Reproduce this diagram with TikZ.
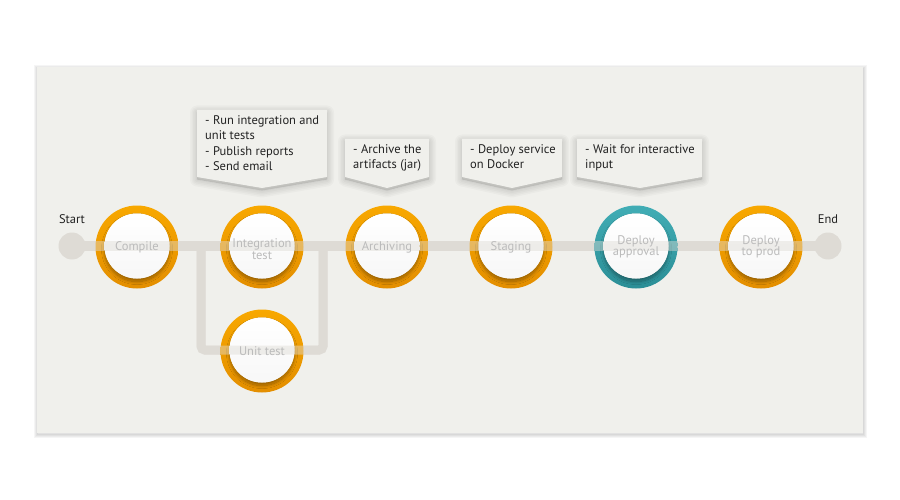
\documentclass[tikz,border=0pt]{standalone}
\usepackage{fontspec}
\setmainfont{PT Sans}
\usetikzlibrary{shadows.blur}
\definecolor{panel}{HTML}{F0F0EC}
\definecolor{track}{HTML}{DEDBD5}
\definecolor{ringA}{HTML}{F8A800}
\definecolor{ringB}{HTML}{E38E00}
\definecolor{tealA}{HTML}{41ADB5}
\definecolor{tealB}{HTML}{2B8E96}
\definecolor{lbl}{HTML}{BBBBBB}
\definecolor{ink}{HTML}{222222}
\newcommand\stagering[4]{%
  \shade[top color=#3, bottom color=#4] (#1,#2) circle (41.5);
  \fill[white, blur shadow={shadow xshift=0pt, shadow yshift=-3pt, shadow opacity=35, shadow blur radius=3pt, shadow blur steps=20}] (#1,#2-1) circle (32.5);
  \shade[top color=white, bottom color=white!94!gray] (#1,#2-1) circle (32.5);
}
\newcommand\callout[5]{%
  \foreach \w in {14,11,8,5,2}{%
    \draw[black, opacity=0.025, line width=\w pt, line join=round, yshift=-2.5pt]
      (#1,#2) -- (#3,#2) -- (#3,#4) -- (#5,#4+11) -- (#1,#4) -- cycle;
    \fill[black, opacity=0.02, yshift=-2.5pt]
      (#1,#2) -- (#3,#2) -- (#3,#4) -- (#5,#4+11) -- (#1,#4) -- cycle;
  }
  \fill[panel] (#1,#2) -- (#3,#2) -- (#3,#4) -- (#5,#4+11) -- (#1,#4) -- cycle;
}
\tikzset{
  stagelbl/.style={text=lbl, font=\fontsize{12.5}{11.5}\selectfont, align=center, inner sep=0pt},
  notetext/.style={text=ink, font=\fontsize{12.5}{15.5}\selectfont, align=left, anchor=north west, inner sep=0pt},
  endlbl/.style={text=ink, font=\fontsize{12.5}{15}\selectfont, inner sep=0pt},
  endpt/.style={circle, fill=track, minimum size=27pt, inner sep=0pt},
  trackline/.style={draw=track, line width=10pt},
  branchline/.style={draw=track, line width=9pt, rounded corners=4pt},
}
\begin{document}
\begin{tikzpicture}[x=1pt,y=-1pt]
\useasboundingbox (0,0) rectangle (900,500);
\fill[white] (0,0) rectangle (900,500);
% panel with soft shadow
\foreach \w in {7,5,3,1.5}{%
  \draw[black, opacity=0.04, line width=\w pt, yshift=-1.5pt, xshift=0.3pt] (37,67) rectangle (863,433);
}
\fill[panel] (37,67) rectangle (863,433);

% end points
\node[endpt] (start) at (72,246) {};
\node[endpt] (end) at (828,246) {};
\coordinate (brL) at (201,246);
\coordinate (brLb) at (201,350);
\coordinate (brRb) at (323,350);
\coordinate (brR) at (323,246);

% track under
\path[trackline] (start.center) -- (end.center);
\path[branchline] (brL) -- (brLb) -- (brRb) -- (brR);

% stage rings
\stagering{137}{247}{ringA}{ringB}
\stagering{262}{247}{ringA}{ringB}
\stagering{387}{247}{ringA}{ringB}
\stagering{511}{247}{ringA}{ringB}
\stagering{636}{247}{tealA}{tealB}
\stagering{761}{247}{ringA}{ringB}
\stagering{262}{351}{ringA}{ringB}

% track overlay (translucent)
\path[trackline, opacity=0.45] (start.center) -- (end.center);
\path[branchline, opacity=0.45] (brL) -- (brLb) -- (brRb) -- (brR);

% stage labels
\node[stagelbl] (compile) at (137,247) {Compile};
\node[stagelbl] (integ) at (262,249) {Integration\\test};
\node[stagelbl] (archive) at (387,247) {Archiving};
\node[stagelbl] (staging) at (511,247) {Staging};
\node[stagelbl] (approval) at (636,247) {Deploy\\approval};
\node[stagelbl] (prod) at (761,247) {Deploy\\to prod};
\node[stagelbl] (unit) at (262,351) {Unit test};

\node[endlbl] (startlbl) at (72,219) {Start};
\node[endlbl] (endlbl) at (828,219) {End};

% callouts
\callout{197}{110}{327}{177}{262}
\callout{345}{139}{429}{177}{387}
\callout{462}{139}{562}{177}{512}
\callout{577}{139}{702}{177}{640}
\node[notetext] (note1) at (205,115) {- Run integration and\\unit tests\\- Publish reports\\- Send email};
\node[notetext] (note2) at (353,144) {- Archive the\\artifacts (jar)};
\node[notetext] (note3) at (470,144) {- Deploy service\\on Docker};
\node[notetext] (note4) at (585,144) {- Wait for interactive\\input};
\end{tikzpicture}
\end{document}
